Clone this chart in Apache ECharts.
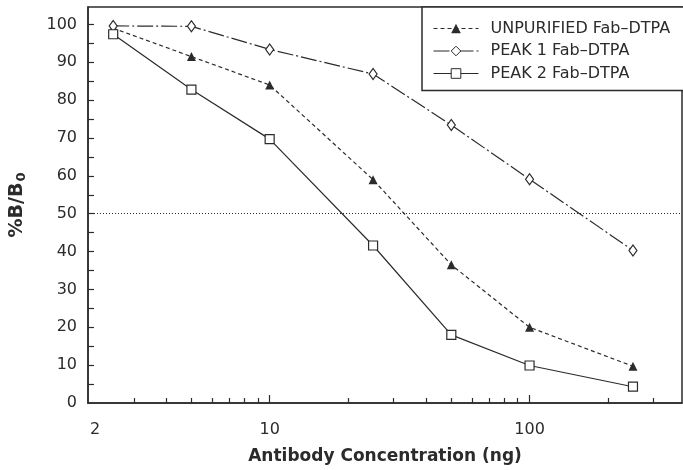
<!DOCTYPE html>
<html>
<head>
<meta charset="utf-8">
<script src="https://cdn.jsdelivr.net/npm/echarts@6/dist/echarts.min.js"></script>
<style>html,body{margin:0;padding:0;background:#fff}#c{width:683px;height:470px}</style>
</head>
<body>
<div id="c"></div>
<script>
const concentrations = [2.5, 5, 10, 25, 50, 100, 250];
const unpurified = [99.0, 91.5, 84.0, 59.0, 36.5, 20.0, 9.7];
const peak1 = [99.6, 99.5, 93.4, 86.9, 73.4, 59.1, 40.3];
const peak2 = [97.4, 82.8, 69.7, 41.6, 18.0, 9.9, 4.3];
const xLabels = [2, 10, 100];
const xMinorTicks = [3, 4, 5, 6, 7, 8, 9, 20, 30, 40, 50, 60, 70, 80, 90, 200, 300];
const xMajorTicks = [10, 100];
const yLabels = [0, 10, 20, 30, 40, 50, 60, 70, 80, 90, 100];
const yTicks = [5, 10, 15, 20, 25, 30, 35, 40, 45, 50, 55, 60, 65, 70, 75, 80, 85, 90, 95, 100];
const seriesNames = ['UNPURIFIED Fab–DTPA', 'PEAK 1 Fab–DTPA', 'PEAK 2 Fab–DTPA'];
const refLine = 50;

const ink = '#2b2b2b';
const font = 'DejaVu Sans';
const pairs = vals => concentrations.map((c, i) => [c, vals[i]]);

const chart = echarts.init(document.getElementById('c'), null, {renderer: 'canvas'});
chart.setOption({
  animation: false,
  backgroundColor: '#fff',
  grid: {left: 85, right: 1, top: 7, bottom: 67, show: true, borderColor: ink, borderWidth: 1.5, backgroundColor: 'transparent'},
  legend: {
    orient: 'vertical', left: 422, top: 7,
    itemWidth: 45, itemHeight: 12, itemGap: 6.5,
    padding: [13.5, 60, 9, 11],
    borderColor: ink, borderWidth: 1.5, backgroundColor: '#fff',
    itemStyle: {borderWidth: 1},
    lineStyle: {width: 1},
    textStyle: {fontFamily: font, fontSize: 16, color: ink, padding: [0, 0, 0, 7]},
    data: seriesNames
  },
  xAxis: [{
    type: 'log', logBase: 10, min: 2, max: 386,
    position: 'bottom',
    axisLine: {show: true, lineStyle: {color: ink, width: 1.5}},
    splitLine: {show: false},
    axisTick: {show: true, inside: true, length: 5, lineStyle: {color: ink, width: 1.2}, customValues: xMinorTicks},
    axisLabel: {
      customValues: xLabels, margin: 19, fontFamily: font, fontSize: 16, color: ink,
      formatter: v => v === 2 ? '{a|2}' : String(v),
      rich: {a: {fontFamily: font, fontSize: 16, color: ink, padding: [0, 0, 0, 14]}}
    },
    name: 'Antibody Concentration (ng)', nameLocation: 'middle', nameGap: 45,
    nameTextStyle: {fontFamily: font, fontSize: 17, fontWeight: 'bold', color: ink}
  }, {
    type: 'log', logBase: 10, min: 2, max: 386,
    position: 'bottom',
    axisLine: {show: false},
    splitLine: {show: false},
    axisTick: {show: true, inside: true, length: 8, lineStyle: {color: ink, width: 1.2}, customValues: xMajorTicks},
    axisLabel: {show: false}
  }],
  yAxis: {
    type: 'value', min: 0, max: 104.6,
    axisLine: {show: true, lineStyle: {color: ink, width: 1.5}},
    splitLine: {show: false},
    axisTick: {show: true, inside: true, length: 6, lineStyle: {color: ink, width: 1.2}, customValues: yTicks},
    axisLabel: {customValues: yLabels, margin: 11, fontFamily: font, fontSize: 16, color: ink},
    name: '%B/B{s|0}', nameLocation: 'middle', nameRotate: 90, nameGap: 60,
    nameTextStyle: {
      fontFamily: font, fontSize: 19, fontWeight: 'bold', color: ink,
      rich: {s: {fontFamily: font, fontSize: 13, fontWeight: 'bold', color: ink, verticalAlign: 'bottom', padding: [8, 0, 0, 1]}}
    }
  },
  series: [{
    name: seriesNames[0], type: 'line', data: pairs(unpurified),
    symbol: 'triangle', symbolSize: 9,
    itemStyle: {color: ink},
    lineStyle: {color: ink, width: 1.2, type: [4, 3]},
    markLine: {
      silent: true, symbol: 'none', label: {show: false},
      lineStyle: {color: ink, width: 1, type: [1, 2]},
      data: [{yAxis: refLine}]
    }
  }, {
    name: seriesNames[1], type: 'line', data: pairs(peak1),
    symbol: 'diamond', symbolSize: [8, 11],
    itemStyle: {color: '#fff', borderColor: ink, borderWidth: 1.2},
    lineStyle: {color: ink, width: 1.2, type: [16, 3, 2, 3]}
  }, {
    name: seriesNames[2], type: 'line', data: pairs(peak2),
    symbol: 'rect', symbolSize: 9,
    itemStyle: {color: '#fff', borderColor: ink, borderWidth: 1.2},
    lineStyle: {color: ink, width: 1.2, type: 'solid'}
  }]
});
</script>
</body>
</html>
